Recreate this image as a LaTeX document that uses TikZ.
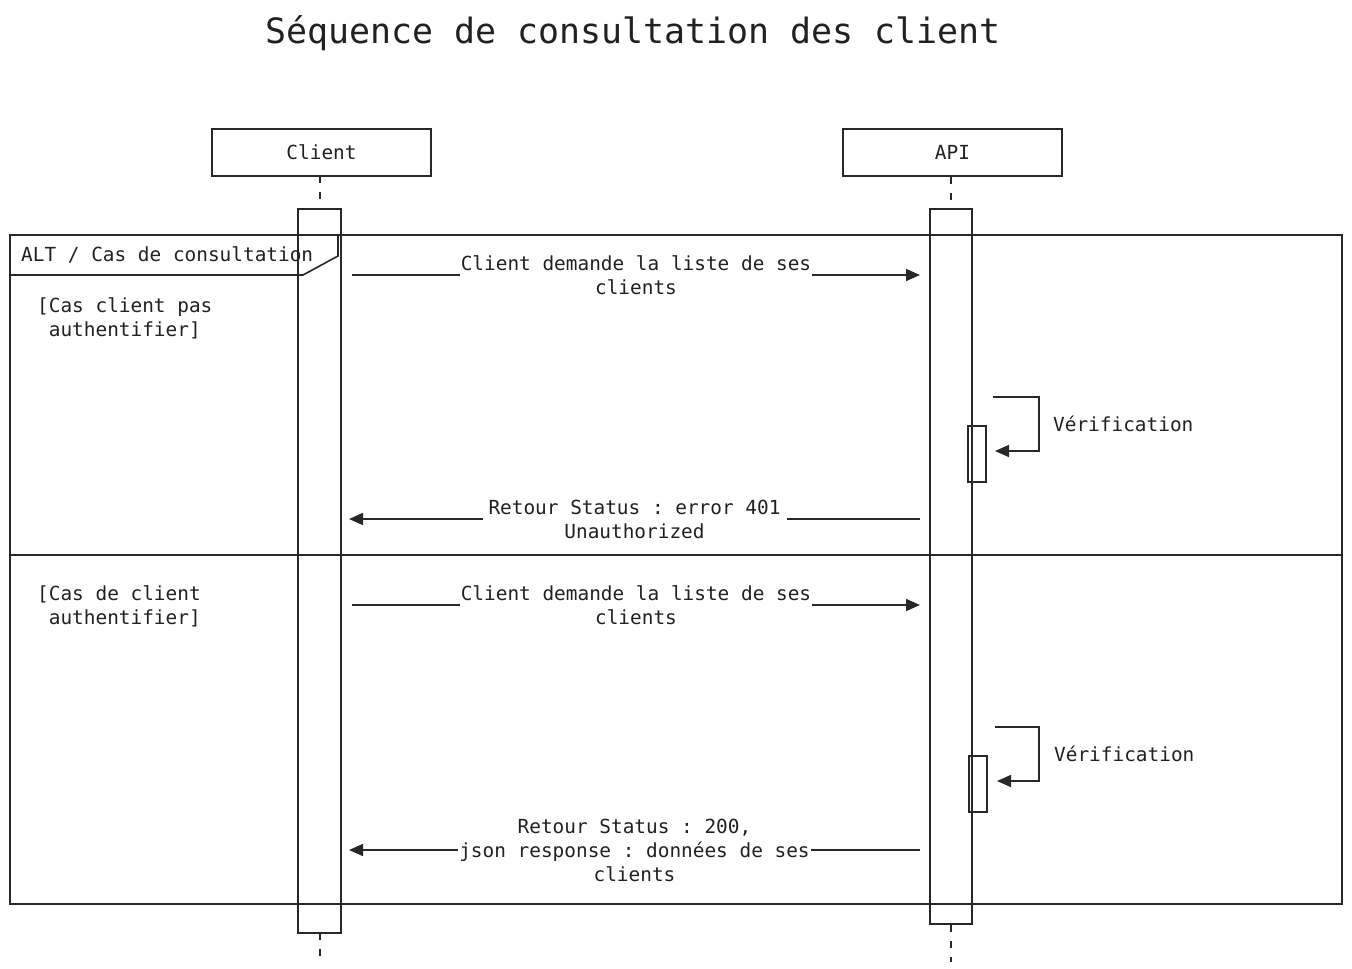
\documentclass[tikz,border=0pt]{standalone}
\usepackage{fontspec}
\setmonofont{DejaVu Sans Mono}
\usetikzlibrary{arrows.meta,positioning,calc}
\definecolor{Ink}{RGB}{33,33,33}
\definecolor{Wire}{RGB}{40,40,40}
\tikzset{
  actor/.style={draw=Wire, line width=1.6pt, fill=white, minimum width=219pt, minimum height=47pt,
    font=\ttfamily\fontsize{19.4}{24}\selectfont, text=Ink, inner sep=0pt},
  actbar/.style={draw=Wire, line width=1.6pt, minimum width=43pt, inner sep=0pt},
  minibar/.style={draw=Wire, line width=1.6pt, minimum width=18pt, minimum height=56pt, inner sep=0pt},
  lifeline/.style={draw=Wire, line width=1.6pt, dash pattern=on 7pt off 9pt},
  frame/.style={draw=Wire, line width=1.6pt, inner sep=0pt},
  msg/.style={-{Triangle[length=14pt, width=12pt]}, draw=Wire, line width=1.6pt},
  lbl/.style={fill=white, align=center, font=\ttfamily\fontsize{19.4}{24}\selectfont, text=Ink, inner sep=1pt},
  guard/.style={align=left, anchor=north west, font=\ttfamily\fontsize{19.4}{24}\selectfont, text=Ink, inner sep=0pt},
  note/.style={anchor=west, font=\ttfamily\fontsize{19.4}{24}\selectfont, text=Ink, inner sep=0pt},
}
\begin{document}
\begin{tikzpicture}[x=1pt, y=-1pt]
\useasboundingbox (0,0) rectangle (1352,969);

% ================= title and participants =================
\node[font=\ttfamily\fontsize{34.9}{40}\selectfont, text=Ink] (title) at (633,33) {Séquence de consultation des client};
\node[actor] (client) at (321.5,152.5) {Client};
\node[actor] (api) at (952.5,152.5) {API};

% activation bars
\node[actbar, minimum height=724pt] (clientbar) at (319.5,571) {};
\node[actbar, minimum width=42pt, minimum height=715pt] (apibar) at (951,566.5) {};

% lifelines
\coordinate (clienttop) at (320,176);
\coordinate (clientmid) at (320,209);
\coordinate (clientlow) at (320,933);
\coordinate (clientend) at (320,962);
\draw[lifeline] (clienttop) -- (clientmid);
\draw[lifeline] (clientlow) -- (clientend);
\coordinate (apiend) at (951,962);
\draw[lifeline] (api.south -| apibar) -- (apibar.north);
\draw[lifeline] (apibar.south) -- (apiend);

% ================= alt frame =================
\node[frame, minimum width=1332pt, minimum height=669pt] (alt) at (676,569.5) {};
\coordinate (tabA) at (338,235);
\coordinate (tabB) at (338,256);
\coordinate (tabC) at (303,275);
\coordinate (tabD) at (10,275);
\draw[frame] (tabA) -- (tabB) -- (tabC) -- (tabD);
\node[note] (altlbl) at (21,255) {ALT / Cas de consultation};
\coordinate (sepL) at (10,555);
\coordinate (sepR) at (1342,555);
\draw[frame] (sepL) -- (sepR);

\node[guard] (g1) at (37,297) {[Cas client pas\\\phantom{[}authentifier]};
\node[guard] (g2) at (37,585) {[Cas de client\\\phantom{[}authentifier]};

% ================= case 1: not authenticated =================
\coordinate (m1s) at (352,275);
\coordinate (m1e) at (920,275);
\draw[msg] (m1s) -- node[lbl] {Client demande la liste de ses\\clients} (m1e);

\node[minibar] (chk1) at (977,454) {};
\coordinate (v1a) at (993,397);
\coordinate (v1b) at (995,451);
\draw[msg] (v1a) -- ++(46,0) |- (v1b);
\node[note] (v1lbl) at (1053,424) {Vérification};

\coordinate (r1s) at (920,519);
\coordinate (r1e) at (349,519);
\draw[msg] (r1s) -- node[lbl, inner xsep=6pt] {Retour Status : error 401\\Unauthorized} (r1e);

% ================= case 2: authenticated =================
\coordinate (m2s) at (352,605);
\coordinate (m2e) at (920,605);
\draw[msg] (m2s) -- node[lbl] {Client demande la liste de ses\\clients} (m2e);

\node[minibar] (chk2) at (978,784) {};
\coordinate (v2a) at (995,727);
\coordinate (v2b) at (997,781);
\draw[msg] (v2a) -- ++(44,0) |- (v2b);
\node[note] (v2lbl) at (1054,754) {Vérification};

\coordinate (r2s) at (920,850);
\coordinate (r2e) at (349,850);
\draw[msg] (r2s) -- node[lbl] {Retour Status : 200,\\json response : données de ses\\clients} (r2e);

\end{tikzpicture}
\end{document}
